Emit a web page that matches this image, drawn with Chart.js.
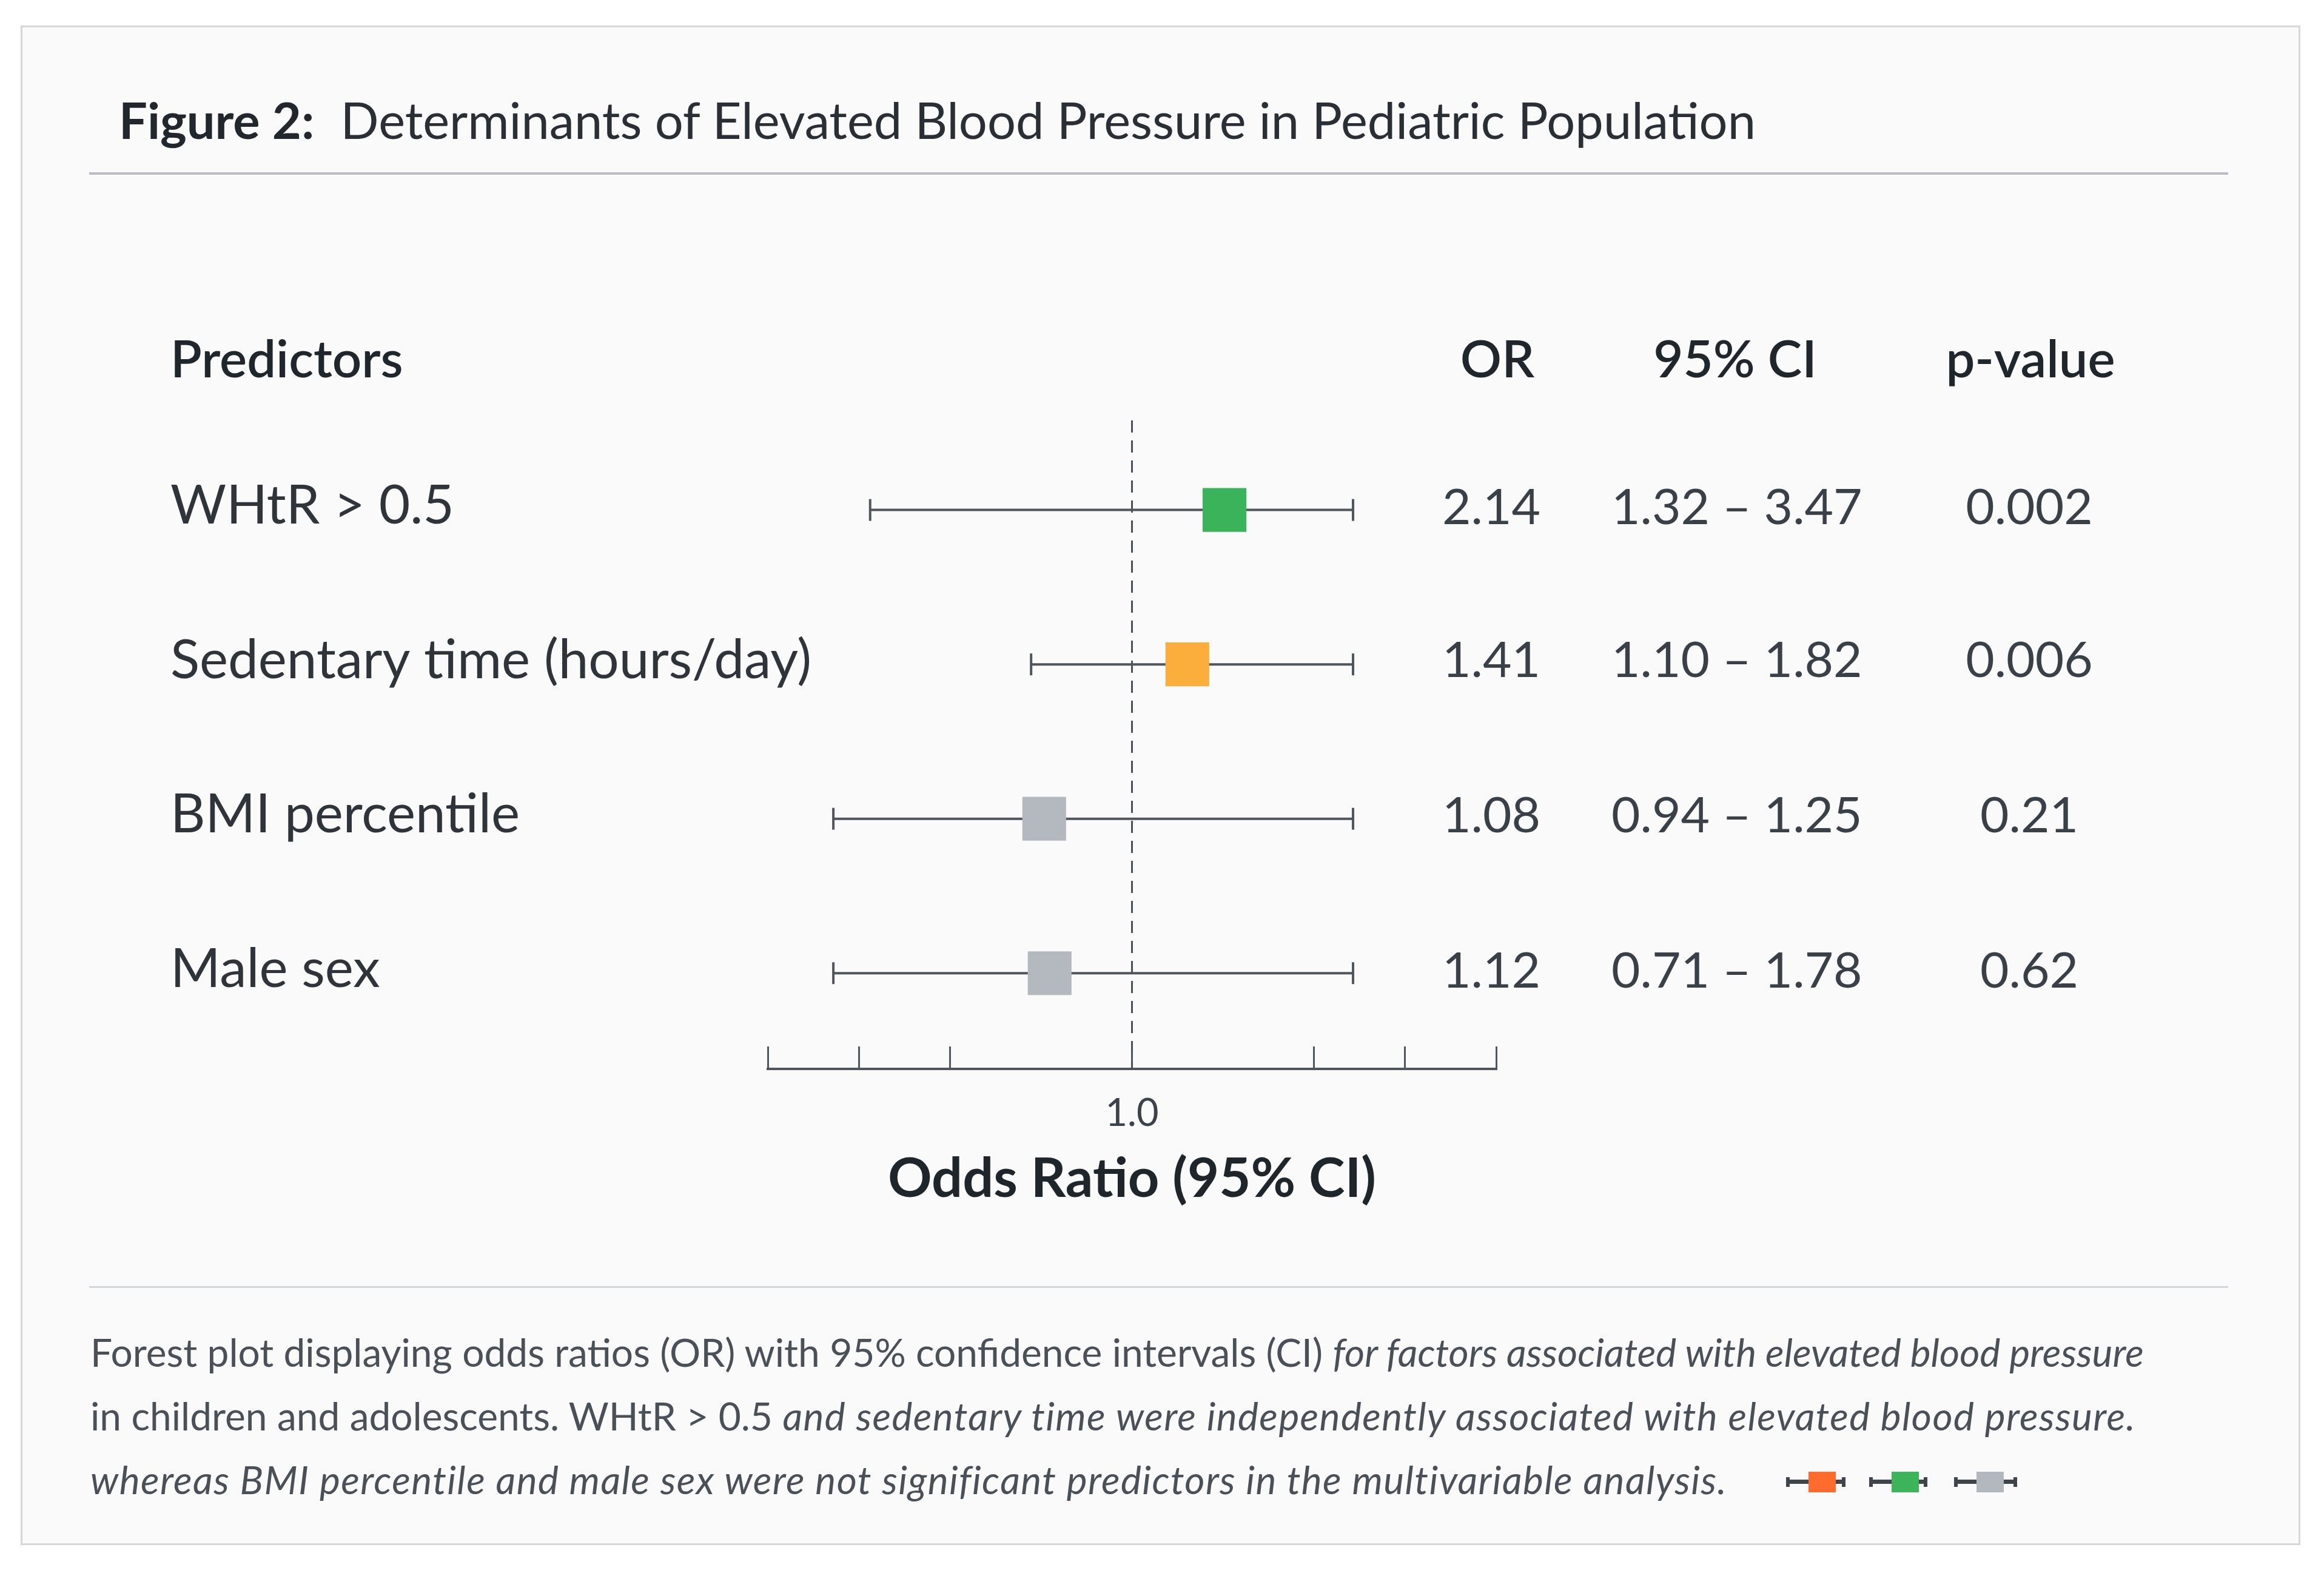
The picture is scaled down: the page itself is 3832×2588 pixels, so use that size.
<!DOCTYPE html>
<html>
<head>
<meta charset="utf-8">
<title>Figure 2 - Determinants of Elevated Blood Pressure</title>
<script src="https://cdn.jsdelivr.net/npm/chart.js"></script>
<style>
  body { margin: 0; width: 3832px; height: 2588px; background: #ffffff; overflow: hidden; font-family: 'Lato', sans-serif; position: relative; }
  .card { position: absolute; left: 34px; top: 42px; width: 3759px; height: 2505px; box-sizing: border-box; border: 3px solid #d6d8db; background: #fafafa; }
  #chart { position: absolute; left: 0; top: 0; z-index: 1; }
  .txt { position: absolute; z-index: 2; white-space: nowrap; }
  .rule { position: absolute; z-index: 2; left: 147px; width: 3527px; }
  .wide { letter-spacing: 1.4px; }
  .icon { position: absolute; z-index: 2; height: 34px; }
  .icon .bar { position: absolute; left: 0; right: 0; top: 13px; height: 7px; background: #3f454c; }
  .icon .capl, .icon .capr { position: absolute; top: 9px; width: 6px; height: 16px; background: #3f454c; }
  .icon .capl { left: 0; } .icon .capr { right: 0; }
  .icon .sq { position: absolute; left: 37px; top: 0; width: 45px; height: 34px; }
</style>
</head>
<body>
<div class="card"></div>
<canvas id="chart" width="3832" height="2588"></canvas>

<div class="txt" style="left:196px; top:147px; font-size:83px; line-height:100px; color:#2a2f35;"><b style="color:#22272d;">Figure 2:</b><span style="margin-left:22px;"> Determinants of Elevated Blood Pressure in Pediatric Population</span></div>
<div class="rule" style="top:284px; height:4px; background:#b9bdc3;"></div>

<div id="table"></div>

<div class="rule" style="top:2120px; height:3px; background:#d2d5d9;"></div>
<div class="txt" style="left:149px; top:2176px; font-size:64px; line-height:105px; color:#4a5057;">
Forest plot displaying odds ratios (OR) with 95% confidence intervals (CI) <i>for factors associated with elevated blood pressure</i><br>
in children and adolescents. WHtR &gt; 0.5 <i class="wide">and sedentary time were independently associated with elevated blood pressure.</i><br>
<i class="wide">whereas BMI percentile and male sex were not significant predictors in the multivariable analysis.</i>
</div>
<div id="icons"></div>

<script>
// table rows
var predictors = ['WHtR > 0.5', 'Sedentary time (hours/day)', 'BMI percentile', 'Male sex'];
var orText = ['2.14', '1.41', '1.08', '1.12'];
var ciText = ['1.32 \u2013 3.47', '1.10 \u2013 1.82', '0.94 \u2013 1.25', '0.71 \u2013 1.78'];
var pText = ['0.002', '0.006', '0.21', '0.62'];
var headers = ['Predictors', 'OR', '95% CI', 'p-value'];

// marks as they sit on the drawn axis
var plotPoint = [1.254, 1.152, 0.759, 0.774];
var plotLow = [0.281, 0.723, 0.180, 0.180];
var plotHigh = [1.607, 1.607, 1.607, 1.607];
var refValue = 1.0;
var axisTicks = [0, 0.25, 0.5, 1, 1.5, 1.75, 2];
var axisLabels = ['', '', '', '1.0', '', '', ''];
var markerColors = ['#3bb35b', '#fbae3c', '#b4b9bf', '#b4b9bf'];
var legendColors = ['#ff6b2c', '#3db45a', '#b3b8be'];

var rowCenters = [834, 1086, 1342, 1598];

function addText(parent, text, css) {
    var d = document.createElement('div');
    d.className = 'txt';
    d.textContent = text;
    d.style.cssText = css;
    parent.appendChild(d);
    return d;
}

// header + table columns
var table = document.getElementById('table');
var hdr = 'font-size:85px; line-height:100px; font-weight:600; color:#1f262c; top:539px;';
addText(table, headers[0], hdr + 'left:281px;');
addText(table, headers[1], hdr + 'left:2369px; width:200px; text-align:center;');
addText(table, headers[2], hdr + 'left:2661px; width:400px; text-align:center;');
addText(table, headers[3], hdr + 'left:3148px; width:400px; text-align:center;');
for (var i = 0; i < predictors.length; i++) {
    var rowTop = rowCenters[i] - 52;
    var val = 'font-size:82px; line-height:100px; color:#3a4047; top:' + rowTop + 'px;';
    addText(table, orText[i], val + 'left:2359px; width:200px; text-align:center;');
    addText(table, ciText[i], val + 'left:2657px; width:400px; text-align:center;');
    addText(table, pText[i], val + 'left:3146px; width:400px; text-align:center;');
}

// little legend marks in the caption
var iconLeft = [2945, 3082, 3222];
var iconWidth = [98, 96, 104];
var icons = document.getElementById('icons');
for (var k = 0; k < legendColors.length; k++) {
    var ic = document.createElement('div');
    ic.className = 'icon';
    ic.style.left = iconLeft[k] + 'px';
    ic.style.top = '2426px';
    ic.style.width = iconWidth[k] + 'px';
    ic.innerHTML = '<div class="bar"></div><div class="capl"></div><div class="capr"></div><div class="sq" style="background:' + legendColors[k] + '"></div>';
    icons.appendChild(ic);
}

Chart.defaults.font.family = 'Lato';

var datasets = [];
datasets.push({
    label: 'OR',
    data: plotPoint.map(function(v, i) { return {x: v, y: i}; }),
    pointStyle: 'rect',
    pointRadius: 51,
    pointBackgroundColor: markerColors,
    pointBorderWidth: 0,
    showLine: false,
    order: 0
});
for (var j = 0; j < predictors.length; j++) {
    datasets.push({
        label: predictors[j],
        data: [{x: plotLow[j], y: j}, {x: plotHigh[j], y: j}],
        showLine: true,
        borderColor: '#50565d',
        borderWidth: 4,
        pointStyle: 'line',
        pointRotation: 90,
        pointRadius: 18,
        pointBorderWidth: 4,
        pointBorderColor: '#50565d',
        order: 1
    });
}
datasets.push({
    label: 'ref',
    data: [{x: refValue, y: -0.58}, {x: refValue, y: 3.62}],
    showLine: true,
    borderColor: '#4a5057',
    borderWidth: 3,
    borderDash: [20, 13],
    pointRadius: 0,
    order: 2
});

var ctx = document.getElementById('chart').getContext('2d');
var chart = new Chart(ctx, {
    type: 'scatter',
    data: { datasets: datasets },
    options: {
        responsive: false,
        animation: false,
        events: [],
        layout: { padding: { left: 1266, top: 693, right: 1365, bottom: 596 } },
        plugins: { legend: { display: false }, tooltip: { enabled: false } },
        scales: {
            x: {
                type: 'linear',
                min: 0,
                max: 2,
                afterBuildTicks: function(scale) {
                    scale.ticks = axisTicks.map(function(v) { return {value: v}; });
                },
                afterFit: function(scale) { scale.height = 230; },
                grid: { display: true, drawOnChartArea: false, drawTicks: true, tickLength: -37, tickWidth: 3, tickColor: '#50565d' },
                border: { display: true, color: '#50565d', width: 4 },
                ticks: {
                    autoSkip: false,
                    maxRotation: 0,
                    padding: 73,
                    color: '#3c4249',
                    font: { size: 63 },
                    callback: function(value) {
                        var idx = axisTicks.indexOf(value);
                        return idx >= 0 ? axisLabels[idx] : '';
                    }
                },
                title: {
                    display: true,
                    text: 'Odds Ratio (95% CI)',
                    color: '#1e252b',
                    font: { size: 90, weight: 'bold', lineHeight: 1 },
                    padding: { top: 0, bottom: 3 }
                }
            },
            y: {
                type: 'linear',
                reverse: true,
                min: -0.58,
                max: 3.62,
                afterBuildTicks: function(scale) {
                    scale.ticks = predictors.map(function(p, i) { return {value: i}; });
                },
                afterFit: function(scale) { scale.width = 0; },
                grid: { display: false },
                border: { display: false },
                ticks: {
                    mirror: true,
                    crossAlign: 'near',
                    padding: -985,
                    labelOffset: -6,
                    color: '#2e343a',
                    font: { size: 89 },
                    callback: function(value) { return predictors[value]; }
                }
            }
        }
    }
});
</script>
</body>
</html>
